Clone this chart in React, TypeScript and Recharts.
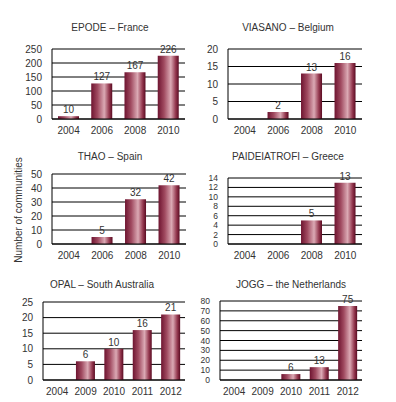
import React from 'react';
import { BarChart, Bar, XAxis, YAxis, CartesianGrid, LabelList } from 'recharts';

const yearsA = ['2004', '2006', '2008', '2010'];
const yearsB = ['2004', '2009', '2010', '2011', '2012'];

const epodeValues = [10, 127, 167, 226];
const viasanoValues = [null, 2, 13, 16];
const thaoValues = [null, 5, 32, 42];
const paideiatrofiValues = [null, null, 5, 13];
const opalValues = [null, 6, 10, 16, 21];
const joggValues = [null, null, 6, 13, 75];

const epodeTicks = [0, 50, 100, 150, 200, 250];
const viasanoTicks = [0, 5, 10, 15, 20];
const thaoTicks = [0, 10, 20, 30, 40, 50];
const paideiatrofiTicks = [0, 2, 4, 6, 8, 10, 12, 14];
const opalTicks = [0, 5, 10, 15, 20, 25];
const joggTicks = [0, 10, 20, 30, 40, 50, 60, 70, 80];

const FONT = '"Liberation Sans", Arial, sans-serif';
const TEXT = '#333';

type PanelProps = {
  id: string;
  title: string;
  cats: string[];
  values: (number | null)[];
  ticks: number[];
  plotLeft: number;
  plotRight: number;
  plotTop: number;
  plotBottom: number;
  titleX: number;
  titleY: number;
  gap: string;
  yFont?: number;
};

const ValueLabel = (props: any) => {
  const { x, y, width, value } = props;
  if (value === null || value === undefined || value === 0) return null;
  return (
    <text x={x + width / 2} y={y - 3} textAnchor="middle" fontSize={10} fill={TEXT} fontFamily={FONT}>
      {value}
    </text>
  );
};

const Panel = (p: PanelProps) => {
  const axisW = 40;
  const padTop = 16;
  const padRight = 6;
  const xAxisH = 20;
  const left = p.plotLeft - axisW;
  const top = p.plotTop - padTop;
  const width = p.plotRight + padRight - left;
  const height = p.plotBottom + xAxisH - top;
  const data = p.cats.map((c, i) => ({ year: c, value: p.values[i] }));
  const max = p.ticks[p.ticks.length - 1];
  const yFont = p.yFont ?? 10;
  return (
    <>
      <div
        style={{
          position: 'absolute',
          left: p.titleX - 100,
          width: 200,
          top: p.titleY - 7,
          textAlign: 'center',
          fontFamily: FONT,
          fontSize: 10,
          color: TEXT,
          lineHeight: '14px',
        }}
      >
        {p.title}
      </div>
      <div style={{ position: 'absolute', left, top }}>
        <BarChart
          width={width}
          height={height}
          data={data}
          margin={{ top: padTop, right: padRight, left: 0, bottom: 0 }}
          barCategoryGap={p.gap}
        >
          <defs>
            <linearGradient id={`grad-${p.id}`} x1="0" y1="0" x2="1" y2="0">
              <stop offset="0%" stopColor="#6e1430" />
              <stop offset="30%" stopColor="#a04a60" />
              <stop offset="62%" stopColor="#dba9b4" />
              <stop offset="85%" stopColor="#94384f" />
              <stop offset="100%" stopColor="#5a0b22" />
            </linearGradient>
          </defs>
          <CartesianGrid horizontal vertical={false} stroke="#000" strokeWidth={1} />
          <XAxis
            dataKey="year"
            height={xAxisH}
            axisLine={{ stroke: '#000' }}
            tickLine={false}
            tick={{ fontSize: 10, fill: TEXT, fontFamily: FONT }}
            tickMargin={2}
            interval={0}
          />
          <YAxis
            width={axisW}
            domain={[0, max]}
            ticks={p.ticks}
            interval={0}
            axisLine={{ stroke: '#000' }}
            tickLine={false}
            tick={{ fontSize: yFont, fill: TEXT, fontFamily: FONT }}
            tickMargin={4}
          />
          <Bar dataKey="value" fill={`url(#grad-${p.id})`} isAnimationActive={false}>
            <LabelList dataKey="value" content={ValueLabel} />
          </Bar>
        </BarChart>
      </div>
    </>
  );
};

export default function App() {
  return (
    <div
      style={{
        position: 'relative',
        width: 396,
        height: 402,
        marginLeft: -8,
        marginTop: -8,
        background: '#fff',
        overflow: 'hidden',
      }}
    >
      <Panel id="p1" title="EPODE – France" cats={yearsA} values={epodeValues} ticks={epodeTicks}
        plotLeft={52} plotRight={185} plotTop={49} plotBottom={119} titleX={110} titleY={28} gap="18%" />
      <Panel id="p2" title="VIASANO – Belgium" cats={yearsA} values={viasanoValues} ticks={viasanoTicks}
        plotLeft={228} plotRight={362} plotTop={49} plotBottom={119} titleX={288} titleY={28} gap="18%" />
      <Panel id="p3" title="THAO – Spain" cats={yearsA} values={thaoValues} ticks={thaoTicks}
        plotLeft={52} plotRight={186} plotTop={174} plotBottom={244} titleX={110} titleY={157} gap="18%" />
      <Panel id="p4" title="PAIDEIATROFI – Greece" cats={yearsA} values={paideiatrofiValues} ticks={paideiatrofiTicks}
        plotLeft={228} plotRight={362} plotTop={178} plotBottom={244} titleX={288} titleY={157} gap="18%" yFont={8.5} />
      <Panel id="p5" title="OPAL – South Australia" cats={yearsB} values={opalValues} ticks={opalTicks}
        plotLeft={43} plotRight={185} plotTop={302} plotBottom={380} titleX={102} titleY={285} gap="16%" />
      <Panel id="p6" title="JOGG – the Netherlands" cats={yearsB} values={joggValues} ticks={joggTicks}
        plotLeft={220} plotRight={362} plotTop={301} plotBottom={380} titleX={291} titleY={285} gap="16%" yFont={8.5} />
      <div
        style={{
          position: 'absolute',
          left: 18,
          top: 210,
          transform: 'translate(-50%, -50%) rotate(-90deg)',
          whiteSpace: 'nowrap',
          fontFamily: FONT,
          fontSize: 10,
          color: TEXT,
        }}
      >
        Number of communities
      </div>
    </div>
  );
}
